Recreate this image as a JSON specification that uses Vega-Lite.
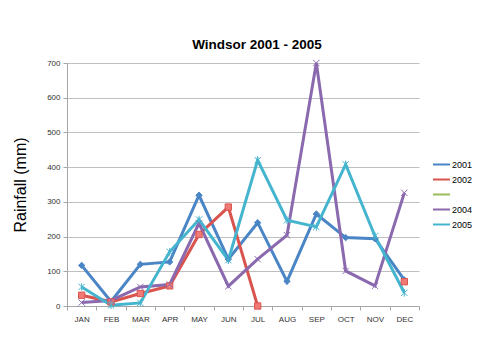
{
  "$schema": "https://vega.github.io/schema/vega-lite/v6.json",
  "width": 352,
  "height": 243,
  "autosize": {"type": "none"},
  "padding": {"left": 67, "top": 63, "right": 81, "bottom": 46},
  "background": "white",
  "title": {"text": "Windsor  2001 - 2005", "fontSize": 13.5, "font": "Liberation Sans", "fontWeight": "bold", "dx": 14, "offset": 6, "color": "black"},
  "config": {
    "view": {"stroke": null},
    "axis": {"labelFont": "Liberation Sans", "labelFontSize": 8, "labelColor": "#333333", "domainColor": "#A6A6A6", "tickColor": "#A6A6A6", "tickSize": 4, "gridColor": "#BFBFBF", "gridWidth": 1}
  },
  "data": {"values": [
    {"month": "JAN", "year": "2001", "rain": 117}, {"month": "FEB", "year": "2001", "rain": 13}, {"month": "MAR", "year": "2001", "rain": 120}, {"month": "APR", "year": "2001", "rain": 127},
    {"month": "MAY", "year": "2001", "rain": 319}, {"month": "JUN", "year": "2001", "rain": 135}, {"month": "JUL", "year": "2001", "rain": 240}, {"month": "AUG", "year": "2001", "rain": 71},
    {"month": "SEP", "year": "2001", "rain": 265}, {"month": "OCT", "year": "2001", "rain": 197}, {"month": "NOV", "year": "2001", "rain": 194}, {"month": "DEC", "year": "2001", "rain": 75},
    {"month": "JAN", "year": "2002", "rain": 31}, {"month": "FEB", "year": "2002", "rain": 12}, {"month": "MAR", "year": "2002", "rain": 36}, {"month": "APR", "year": "2002", "rain": 58},
    {"month": "MAY", "year": "2002", "rain": 206}, {"month": "JUN", "year": "2002", "rain": 285}, {"month": "JUL", "year": "2002", "rain": 0}, {"month": "AUG", "year": "2002", "rain": null},
    {"month": "SEP", "year": "2002", "rain": null}, {"month": "OCT", "year": "2002", "rain": null}, {"month": "NOV", "year": "2002", "rain": null}, {"month": "DEC", "year": "2002", "rain": 70},
    {"month": "JAN", "year": "2004", "rain": 10}, {"month": "FEB", "year": "2004", "rain": 16}, {"month": "MAR", "year": "2004", "rain": 55}, {"month": "APR", "year": "2004", "rain": 62},
    {"month": "MAY", "year": "2004", "rain": 238}, {"month": "JUN", "year": "2004", "rain": 57}, {"month": "JUL", "year": "2004", "rain": 135}, {"month": "AUG", "year": "2004", "rain": 204},
    {"month": "SEP", "year": "2004", "rain": 700}, {"month": "OCT", "year": "2004", "rain": 101}, {"month": "NOV", "year": "2004", "rain": 58}, {"month": "DEC", "year": "2004", "rain": 326},
    {"month": "JAN", "year": "2005", "rain": 55}, {"month": "FEB", "year": "2005", "rain": 2}, {"month": "MAR", "year": "2005", "rain": 9}, {"month": "APR", "year": "2005", "rain": 156},
    {"month": "MAY", "year": "2005", "rain": 249}, {"month": "JUN", "year": "2005", "rain": 132}, {"month": "JUL", "year": "2005", "rain": 420}, {"month": "AUG", "year": "2005", "rain": 247},
    {"month": "SEP", "year": "2005", "rain": 228}, {"month": "OCT", "year": "2005", "rain": 408}, {"month": "NOV", "year": "2005", "rain": 201}, {"month": "DEC", "year": "2005", "rain": 38}
  ]},
  "encoding": {
    "x": {"field": "month", "type": "nominal", "sort": ["JAN", "FEB", "MAR", "APR", "MAY", "JUN", "JUL", "AUG", "SEP", "OCT", "NOV", "DEC"],
      "scale": {"type": "band", "paddingInner": 0, "paddingOuter": 0},
      "axis": {"title": null, "labelAngle": 0, "tickBand": "extent", "labelPadding": 5, "grid": false}},
    "y": {"field": "rain", "type": "quantitative", "scale": {"domain": [0, 700], "nice": false},
      "axis": {"title": "Rainfall (mm)", "titleFont": "Liberation Sans", "titleFontSize": 16, "titleFontWeight": "normal", "titleColor": "black", "titlePadding": 18, "values": [0, 100, 200, 300, 400, 500, 600, 700], "labelPadding": 3, "tickSize": 4}}
  },
  "layer": [
    {
      "mark": {"type": "line", "strokeWidth": 3, "invalid": "break-paths-filter-domains"},
      "encoding": {
        "color": {"field": "year", "type": "nominal",
          "scale": {"domain": ["2001", "2002", "2003", "2004", "2005"], "range": ["#4A85C5", "#D9544F", "#9BBB59", "#8A69AE", "#45B5CF"]},
          "legend": {"title": null, "orient": "none", "legendX": 365, "legendY": 92, "symbolType": "stroke", "symbolStrokeWidth": 2, "symbolSize": 289, "labelFont": "Liberation Sans", "labelFontSize": 9, "labelColor": "black", "rowPadding": -2, "labelOffset": 1,
            "labelExpr": "datum.label == '2003' ? '' : datum.label"}
        }
      }
    },
    {
      "mark": {"type": "point", "filled": true, "size": 40, "strokeWidth": 1, "opacity": 1},
      "encoding": {
        "shape": {"field": "year", "type": "nominal", "legend": null,
          "scale": {"domain": ["2001", "2002", "2003", "2004", "2005"], "range": ["diamond", "square", "triangle-up", "M-1,-1L1,1M-1,1L1,-1", "M-1,-1L1,1M-1,1L1,-1M0,-1.2L0,1.2"]}},
        "fill": {"field": "year", "type": "nominal", "legend": null,
          "scale": {"domain": ["2001", "2002", "2003", "2004", "2005"], "range": ["#4A85C5", "#F07A75", "#9BBB59", "#8A69AE", "#45B5CF"]}},
        "stroke": {"field": "year", "type": "nominal", "legend": null,
          "scale": {"domain": ["2001", "2002", "2003", "2004", "2005"], "range": ["#4A85C5", "#D9544F", "#9BBB59", "#8A69AE", "#45B5CF"]}}
      }
    }
  ],
  "resolve": {"legend": {"shape": "independent", "fill": "independent", "stroke": "independent", "color": "independent"}}
}
